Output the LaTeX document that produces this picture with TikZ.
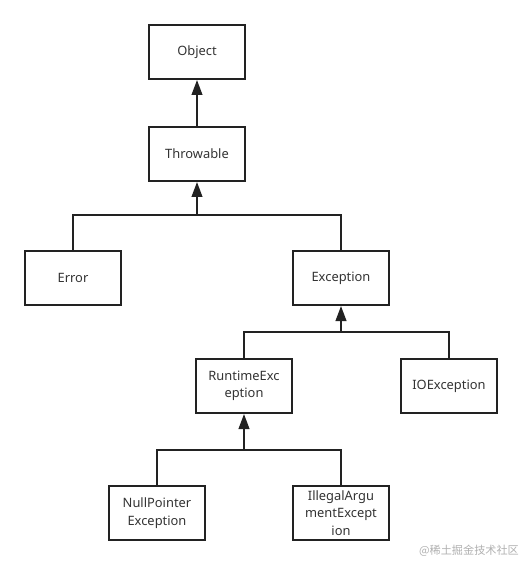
\documentclass[tikz,border=0pt]{standalone}
\usepackage{fontspec}
\setmainfont{Noto Sans}
\newfontfamily\cjk{Noto Sans CJK SC}
\usepackage{xcolor}
\usetikzlibrary{arrows.meta, positioning}

\definecolor{linegray}{HTML}{222222}
\definecolor{textgray}{HTML}{333333}
\definecolor{markgray}{HTML}{B0B0B0}

\begin{document}
\begin{tikzpicture}[
  x=0.03cm, y=-0.03cm,
  arrow/.style={-{Triangle[length=0.45cm, width=0.32cm]}, line width=1.7pt, draw=linegray},
  link/.style={line width=1.7pt, draw=linegray},
  classbox/.style={draw=linegray, rectangle, line width=1.7pt, minimum width=2.88cm, minimum height=1.62cm,
    align=center, inner sep=0pt, font=\fontsize{11}{15}\selectfont, text=textgray}
]
  \useasboundingbox (0,0) rectangle (522,566);

  % top of the hierarchy
  \node (object) [classbox] at (197, 52) {Object};
  \node (throwable) [classbox] at (197, 154) {Throwable};
  \draw[arrow] (throwable.north) -- (object.south);

  % Error / Exception
  \node (error) [classbox] at (73, 278) {Error};
  \node (exception) [classbox] at (341, 278) {Exception};
  \coordinate (bus1) at (197, 215);
  \draw[link] (error.north) |- (bus1) -| (exception.north);
  \draw[arrow] (bus1) -- (throwable.south);

  % subclasses of Exception
  \node (runtime) [classbox] at (244, 386) {RuntimeExc\\eption};
  \node (ioexc) [classbox] at (449, 386) {IOException};
  \coordinate (bus2) at (341, 332);
  \draw[link] (runtime.north) |- (bus2) -| (ioexc.north);
  \draw[arrow] (bus2) -- (exception.south);

  % subclasses of RuntimeException
  \node (nullptr) [classbox] at (157, 513) {NullPointer\\Exception};
  \node (illegal) [classbox] at (341, 513) {IllegalArgu\\mentExcept\\ion};
  \coordinate (bus3) at (244, 450);
  \draw[link] (nullptr.north) |- (bus3) -| (illegal.north);
  \draw[arrow] (bus3) -- (runtime.south);

  % watermark
  \node (mark) [anchor=east, font=\cjk\fontsize{9.5}{11}\selectfont, text=markgray, inner sep=0pt] at (519, 551) {@稀土掘金技术社区};

\end{tikzpicture}
\end{document}
